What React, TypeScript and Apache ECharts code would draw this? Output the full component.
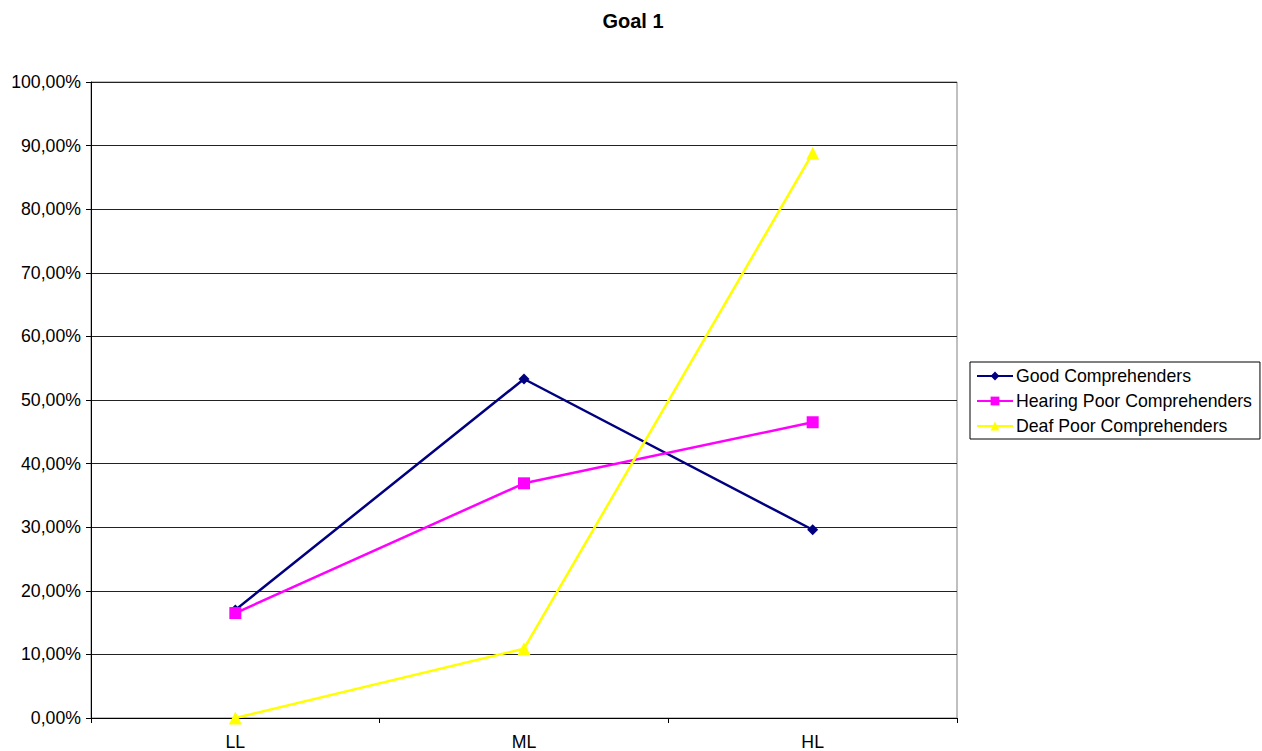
import React, { useEffect, useRef } from "react";
import * as echarts from "echarts";

const categories = ["LL", "ML", "HL"];
const goodComprehenders = [17.0, 53.3, 29.6];
const hearingPoor = [16.5, 36.9, 46.5];
const deafPoor = [0.0, 10.9, 88.8];

export default function App() {
  const ref = useRef<HTMLDivElement>(null);
  useEffect(() => {
    if (!ref.current) return;
    const chart = echarts.init(ref.current, undefined, { renderer: "svg" });
    const font = "'Liberation Sans', Arial, sans-serif";
    chart.setOption({
      animation: false,
      backgroundColor: "#ffffff",
      title: {
        text: "Goal 1",
        left: 628,
        textAlign: "center",
        top: 6,
        textStyle: { fontFamily: font, fontSize: 20, fontWeight: "bold", color: "#000" },
      },
      legend: {
        orient: "vertical",
        left: 970,
        top: 362,
        itemWidth: 36,
        itemHeight: 11,
        itemGap: 7,
        padding: [5, 8, 4, 6],
        borderColor: "#000",
        borderWidth: 1,
        textStyle: { fontFamily: font, fontSize: 17.7, color: "#000", padding: [0, 0, 0, -2] },
        data: ["Good Comprehenders", "Hearing Poor Comprehenders", "Deaf Poor Comprehenders"],
      },
      grid: {
        left: 91,
        right: 305,
        top: 82,
        bottom: 33,
        show: true,
        borderColor: "#808080",
        borderWidth: 1,
        backgroundColor: "#ffffff",
      },
      xAxis: {
        type: "category",
        data: categories,
        boundaryGap: true,
        axisLine: { lineStyle: { color: "#000", width: 1 } },
        axisTick: { show: true, length: 5, lineStyle: { color: "#000" } },
        axisLabel: { fontFamily: font, fontSize: 17.7, color: "#000", margin: 15 },
        splitLine: { show: false },
      },
      yAxis: {
        type: "value",
        min: 0,
        max: 100,
        interval: 10,
        axisLine: { show: true, lineStyle: { color: "#000", width: 1 } },
        axisTick: { show: true, length: 5, lineStyle: { color: "#000" } },
        axisLabel: {
          fontFamily: font,
          fontSize: 17.7,
          color: "#000",
          margin: 10,
          formatter: (v: number) => v.toFixed(2).replace(".", ",") + "%",
        },
        splitLine: { show: true, lineStyle: { color: "#222", width: 1 } },
      },
      series: [
        {
          name: "Good Comprehenders",
          type: "line",
          data: goodComprehenders,
          symbol: "diamond",
          symbolSize: 11,
          itemStyle: { color: "#000080" },
          lineStyle: { color: "#000080", width: 2.5 },
          z: 3,
        },
        {
          name: "Hearing Poor Comprehenders",
          type: "line",
          data: hearingPoor,
          symbol: "rect",
          symbolSize: 12,
          itemStyle: { color: "#ff00ff" },
          lineStyle: { color: "#ff00ff", width: 2.5 },
          z: 4,
        },
        {
          name: "Deaf Poor Comprehenders",
          type: "line",
          data: deafPoor,
          symbol: "triangle",
          symbolSize: 13,
          itemStyle: { color: "#ffff00" },
          lineStyle: { color: "#ffff00", width: 2.5 },
          z: 5,
        },
      ],
    });
    return () => chart.dispose();
  }, []);
  return <div ref={ref} style={{ width: 1262, height: 751, position: "absolute", left: 0, top: 0 }} />;
}
